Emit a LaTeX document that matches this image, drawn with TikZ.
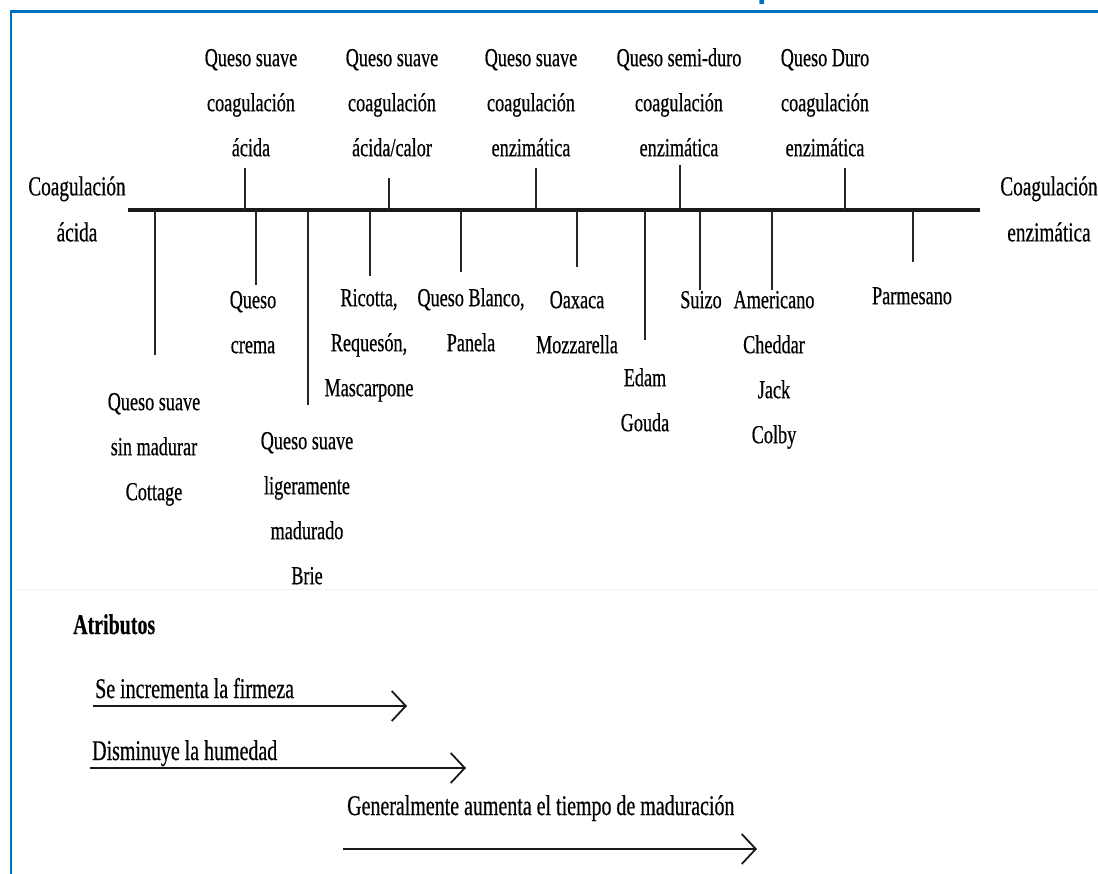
\documentclass[tikz,border=0pt]{standalone}
\usepackage{fontspec}
\setmainfont{Liberation Serif}[FakeStretch=0.7, FakeBold=0.5]
\newfontfamily\titlefont{Carlito}
\usetikzlibrary{arrows.meta}

\definecolor{frameblue}{HTML}{0070C0}
\newcommand\labfont{\fontsize{26}{45}\selectfont}
\newcommand\sidefont{\fontsize{27.5}{46}\selectfont}
\newcommand\attrfont{\fontsize{28.5}{34}\selectfont}

\tikzset{
  lab/.style={font=\labfont, align=center, inner sep=0pt, anchor=north},
  sidelab/.style={font=\sidefont, align=center, inner sep=0pt, anchor=north},
  attr/.style={font=\attrfont, inner sep=0pt, anchor=base west},
  axisline/.style={line width=3.5pt, draw=black!90},
  tickline/.style={line width=1.8pt, draw=black!85},
  trend/.style={line width=2pt, draw=black!90,
    -{Straight Barb[length=14pt,width=30pt,line width=1.8pt]}},
  framebar/.style={draw=frameblue, line width=2.7pt},
  titlestyle/.style={font=\titlefont\bfseries\fontsize{38}{40}\selectfont,
    text=frameblue, inner sep=0pt, anchor=base}
}

\begin{document}
\begin{tikzpicture}[x=1pt,y=-1pt]
\useasboundingbox (0,0) rectangle (1098,874);

% heading, mostly above the page edge
\begin{scope}
  \clip (0,0) rectangle (1098,874);
  \node[titlestyle] (title) at (557,-1.5) {Criterios de clasificación de los quesos};
\end{scope}

% blue frame (top and left edges) and faint divider
\draw[framebar] (1098,11.3) -- (11,11.3) -- (11,874);
\draw[draw=black!5, line width=1pt] (13,589) -- (1098,589);

% main axis
\coordinate (axL) at (128,210);
\coordinate (axR) at (980,210);
\draw[axisline] (axL) -- (axR);

\node[sidelab] (acid) at (77,163) {\strut Coagulación\\ácida};
\node[sidelab] (enz) at (1049,163) {\strut Coagulación\\enzimática};

% categories above the axis
\node[lab] (c1) at (251,34.5) {\strut Queso suave\\coagulación\\ácida};
\node[lab] (c2) at (392,34.5) {\strut Queso suave\\coagulación\\ácida/calor};
\node[lab] (c3) at (531,34.5) {\strut Queso suave\\coagulación\\enzimática};
\node[lab] (c4) at (679,34.5) {\strut Queso semi-duro\\coagulación\\enzimática};
\node[lab] (c5) at (825,34.5) {\strut Queso Duro\\coagulación\\enzimática};

\foreach \n/\x/\y in {1/245/168, 2/389/178, 3/536/168, 4/680/165, 5/845/168}{
  \coordinate (up\n) at (\x,\y);
  \coordinate (ua\n) at (\x,210);
  \draw[tickline] (up\n) -- (ua\n);
}

% cheeses below the axis
\node[lab] (q1) at (154,378.5) {\strut Queso suave\\sin madurar\\Cottage};
\node[lab] (q2) at (253,276.5) {\strut Queso\\crema};
\node[lab] (q3) at (307,417.5) {\strut Queso suave\\ligeramente\\madurado\\Brie};
\node[lab] (q4) at (369,274.5) {\strut Ricotta,\\Requesón,\\Mascarpone};
\node[lab] (q5) at (471,274.5) {\strut Queso Blanco,\\Panela};
\node[lab] (q6) at (577,276.5) {\strut Oaxaca\\Mozzarella};
\node[lab] (q7) at (645,354.5) {\strut Edam\\Gouda};
\node[lab] (q8) at (701,276.5) {\strut Suizo};
\node[lab] (q9) at (774,276.5) {\strut Americano\\Cheddar\\Jack\\Colby};
\node[lab] (q10) at (912,272.5) {\strut Parmesano};

\foreach \n/\x/\y in {1/155/355, 2/256/285, 3/308/405, 4/370/276, 5/461/272,
                      6/577/267, 7/645/340, 8/700/290, 9/772/290, 10/913/262}{
  \coordinate (da\n) at (\x,210);
  \coordinate (dn\n) at (\x,\y);
  \draw[tickline] (da\n) -- (dn\n);
}

% attributes
\node[attr, font=\attrfont\bfseries] (atr) at (73,634) {Atributos};

\node[attr] (t1) at (95,698) {Se incrementa la firmeza};
\coordinate (f0) at (93,706);
\coordinate (f1) at (407,706);
\draw[trend] (f0) -- (f1);

\node[attr] (t2) at (92,760) {Disminuye la humedad};
\coordinate (h0) at (90,768);
\coordinate (h1) at (466,768);
\draw[trend] (h0) -- (h1);

\node[attr] (t3) at (347,815) {Generalmente aumenta el tiempo de maduración};
\coordinate (m0) at (343,849);
\coordinate (m1) at (757,849);
\draw[trend] (m0) -- (m1);

\end{tikzpicture}
\end{document}
